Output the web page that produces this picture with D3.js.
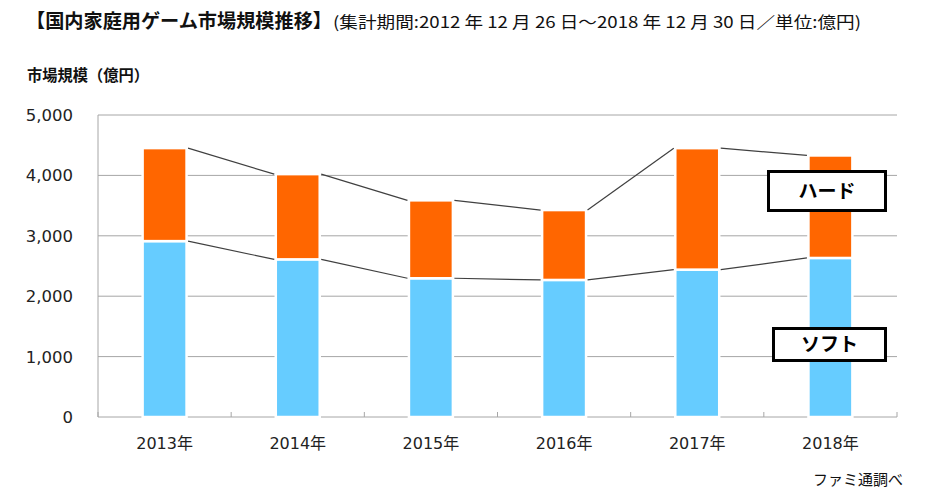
<!DOCTYPE html>
<html>
<head>
<meta charset="utf-8">
<script src="https://cdn.jsdelivr.net/npm/d3@7"></script>
<style>
  body { margin: 0; background: #fff; }
  text { font-family: "DejaVu Sans", "Noto Sans CJK JP", sans-serif; }
  .jp { font-family: "Noto Sans CJK JP", sans-serif; }
</style>
</head>
<body>
<svg id="chart" width="932" height="499"></svg>
<script>
// ----- data (億円) -----
const years = ["2013年", "2014年", "2015年", "2016年", "2017年", "2018年"];
const soft  = [2912, 2610, 2297, 2269, 2440, 2633];
const hard  = [1540, 1411, 1290, 1157, 2011, 1697];
const yTicks = [0, 1000, 2000, 3000, 4000, 5000];

const svg = d3.select("#chart");
const margin = { top: 115, right: 35, bottom: 82, left: 98 };
const W = 932 - margin.left - margin.right;
const H = 499 - margin.top - margin.bottom;
const g = svg.append("g").attr("transform", `translate(${margin.left},${margin.top})`);

const x = d3.scaleBand().domain(years).range([0, W]).paddingInner(0.67).paddingOuter(0.335);
const band = d3.scaleBand().domain(years).range([0, W]);
const y = d3.scaleLinear().domain([0, 5000]).range([H, 0]);

const rows = years.map((yr, i) => ({ yr, soft: soft[i], hard: hard[i], total: soft[i] + hard[i] }));

// gridlines
g.selectAll(".grid").data(yTicks).join("line")
  .attr("x1", 0).attr("x2", W)
  .attr("y1", d => y(d)).attr("y2", d => y(d))
  .attr("stroke", "#a6a6a6").attr("stroke-width", 1);

// left axis line
g.append("line").attr("x1", 0).attr("x2", 0).attr("y1", 0).attr("y2", H)
  .attr("stroke", "#a6a6a6");

// category ticks (pointing up from the baseline)
g.selectAll(".xtick").data(d3.range(years.length + 1)).join("line")
  .attr("x1", i => i * band.step()).attr("x2", i => i * band.step())
  .attr("y1", H - 5).attr("y2", H)
  .attr("stroke", "#a6a6a6");

// y tick labels
g.selectAll(".ylab").data(yTicks).join("text")
  .attr("x", -25).attr("y", d => y(d)).attr("dy", "0.36em")
  .attr("text-anchor", "end").attr("font-size", 16.5).attr("fill", "#222")
  .text(d3.format(","));

// x labels
g.selectAll(".xlab").data(years).join("text")
  .attr("x", d => band(d) + band.bandwidth() / 2).attr("y", H + 26)
  .attr("dy", "0.36em").attr("text-anchor", "middle")
  .attr("font-size", 16).attr("fill", "#222")
  .text(d => d);

// bars
const bw = x.bandwidth();
g.selectAll(".soft").data(rows).join("rect")
  .attr("x", d => x(d.yr)).attr("width", bw)
  .attr("y", d => y(d.soft)).attr("height", d => y(0) - y(d.soft))
  .attr("fill", "#66ccff").attr("stroke", "#fff").attr("stroke-width", 2.5);
g.selectAll(".hard").data(rows).join("rect")
  .attr("x", d => x(d.yr)).attr("width", bw)
  .attr("y", d => y(d.total)).attr("height", d => y(d.soft) - y(d.total))
  .attr("fill", "#ff6600").attr("stroke", "#fff").attr("stroke-width", 2.5);

// connector lines
const pairs = d3.pairs(rows);
["total", "soft"].forEach(key => {
  g.selectAll(".conn-" + key).data(pairs).join("line")
    .attr("x1", ([a]) => x(a.yr) + bw + 1.5).attr("y1", ([a]) => y(a[key]))
    .attr("x2", ([, b]) => x(b.yr) - 1.5).attr("y2", ([, b]) => y(b[key]))
    .attr("stroke", "#404040").attr("stroke-width", 1.2);
});

// legend boxes
const legend = [
  { label: "ハード", x: 768.5, y: 171.5, w: 117, h: 39 },
  { label: "ソフト", x: 773.5, y: 328.5, w: 112, h: 32 }
];
legend.forEach(l => {
  svg.append("rect").attr("x", l.x).attr("y", l.y).attr("width", l.w).attr("height", l.h)
    .attr("fill", "#fff").attr("stroke", "#000").attr("stroke-width", 3);
  svg.append("text").attr("class", "jp")
    .attr("x", l.x + l.w / 2).attr("y", l.y + l.h / 2).attr("dy", "0.36em")
    .attr("text-anchor", "middle").attr("font-size", 19).attr("font-weight", "bold")
    .text(l.label);
});

// title
const title = svg.append("text").attr("class", "jp").attr("y", 28).attr("x", 26).attr("fill", "#111");
title.append("tspan").attr("font-size", 19).attr("font-weight", "bold")
  .attr("textLength", 306).attr("lengthAdjust", "spacingAndGlyphs")
  .text("【国内家庭用ゲーム市場規模推移】");
title.append("tspan").attr("x", 333).attr("font-size", 16)
  .attr("textLength", 528).attr("lengthAdjust", "spacingAndGlyphs")
  .text("(集計期間:2012 年 12 月 26 日～2018 年 12 月 30 日／単位:億円)");

// y axis title
svg.append("text").attr("class", "jp").attr("x", 27).attr("y", 81)
  .attr("font-size", 15.5).attr("font-weight", "bold").attr("fill", "#111")
  .attr("textLength", 122).attr("lengthAdjust", "spacingAndGlyphs")
  .text("市場規模（億円）");

// source
svg.append("text").attr("class", "jp").attr("x", 903).attr("y", 485)
  .attr("text-anchor", "end").attr("font-size", 15).attr("fill", "#111")
  .text("ファミ通調べ");
</script>
</body>
</html>
